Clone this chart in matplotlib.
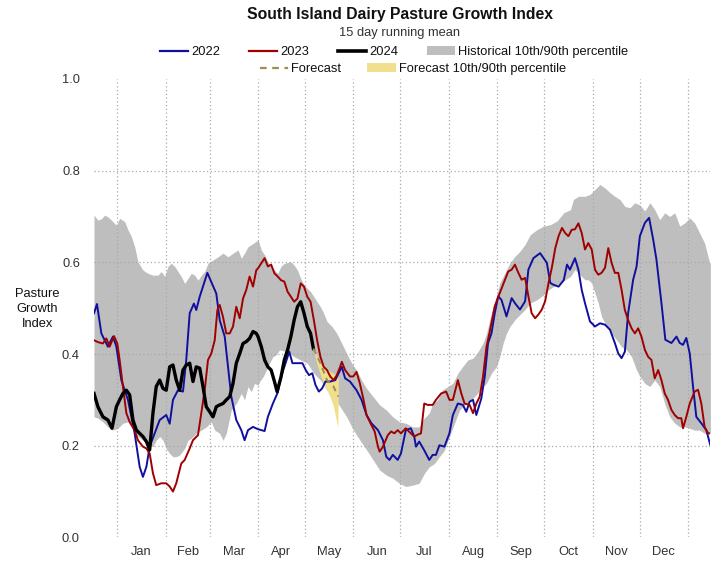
import matplotlib
matplotlib.use("Agg")
import matplotlib.pyplot as plt
from matplotlib.lines import Line2D
from matplotlib.patches import Patch
import numpy as np

plt.rcParams['font.family'] = ['Liberation Sans', 'DejaVu Sans']

# ---------------- data: (day of year, value) with day 0 = 1 Jan ----------------
series_2022 = [(-14.9, 0.489), (-13, 0.509), (-10.2, 0.445), (-6, 0.416), (-2.8, 0.438), (-0.6, 0.416),
    (2.6, 0.343), (6.8, 0.300), (11.1, 0.227), (14.3, 0.154), (16.4, 0.132), (18.6, 0.154), (20.7, 0.198),
    (23.9, 0.227), (27.1, 0.256), (31.3, 0.267), (33.5, 0.248), (35.6, 0.300), (38.8, 0.321), (42, 0.318),
    (44.1, 0.387), (46.3, 0.489), (49, 0.510), (50.5, 0.496), (52.7, 0.525), (54.8, 0.547), (57.6, 0.577),
    (60.1, 0.557), (63.3, 0.532), (65.5, 0.474), (68.7, 0.438), (70.8, 0.372), (72.9, 0.307), (76.1, 0.256),
    (79.3, 0.234), (81.4, 0.212), (83.6, 0.234), (86.8, 0.241), (90, 0.236), (94.2, 0.232), (96.3, 0.263),
    (99.5, 0.292), (102.6, 0.316), (104.7, 0.350), (107.9, 0.383), (110, 0.405), (112, 0.380), (115.2, 0.380),
    (118.4, 0.380), (120.5, 0.365), (122.6, 0.354), (124.7, 0.358), (126.8, 0.332), (128.9, 0.318),
    (131, 0.325), (133.1, 0.340), (136.2, 0.340), (139.4, 0.343), (141.5, 0.358), (143.6, 0.372),
    (145.7, 0.347), (148.8, 0.340), (153, 0.321), (156.2, 0.300), (159.4, 0.267), (162.5, 0.249),
    (166.7, 0.234), (169.9, 0.212), (172, 0.176), (174.1, 0.169), (176.2, 0.180), (179.3, 0.169),
    (181.4, 0.183), (184.5, 0.234), (187.7, 0.238), (189.9, 0.220), (191, 0.198), (193.1, 0.209),
    (196.3, 0.190), (199.5, 0.169), (201.7, 0.180), (203.8, 0.180), (206, 0.201), (209.2, 0.198),
    (212.4, 0.227), (214.6, 0.267), (217.8, 0.292), (221, 0.289), (223.2, 0.274), (225.3, 0.296),
    (227.5, 0.300), (229.6, 0.267), (232.8, 0.303), (235, 0.351), (237.1, 0.424), (239.3, 0.445),
    (241.4, 0.489), (243.6, 0.526), (245.7, 0.518), (248.9, 0.482), (252.2, 0.522), (254.3, 0.511),
    (257.5, 0.497), (260.8, 0.515), (262.9, 0.584), (266.1, 0.609), (270.4, 0.620), (274.7, 0.599),
    (276.9, 0.555), (279, 0.551), (282.2, 0.547), (285.5, 0.561), (287.6, 0.595), (289.5, 0.584),
    (292.7, 0.609), (294.9, 0.584), (297, 0.540), (299.1, 0.511), (302.3, 0.471), (305.5, 0.460),
    (308.7, 0.467), (311.9, 0.464), (315.1, 0.453), (318.2, 0.424), (320.4, 0.401), (322.5, 0.391),
    (324.6, 0.405), (326.7, 0.489), (329.9, 0.562), (332.1, 0.591), (334.2, 0.657), (337.4, 0.686),
    (340.1, 0.697), (342.7, 0.650), (344.8, 0.606), (348, 0.511), (350.5, 0.431), (354.4, 0.424),
    (357.6, 0.438), (359.7, 0.424), (361.8, 0.420), (363.9, 0.435), (366.1, 0.401), (368.2, 0.329),
    (370.3, 0.263), (373.5, 0.249), (376.7, 0.234), (379.3, 0.201)]

series_2023 = [(-14.9, 0.430), (-12.4, 0.426), (-9.2, 0.423), (-7, 0.434), (-4.9, 0.416), (-2.1, 0.439),
    (0, 0.423), (1.5, 0.387), (3.6, 0.329), (5.8, 0.271), (7.9, 0.252), (11.1, 0.234), (13.2, 0.212),
    (16.4, 0.198), (18.6, 0.194), (20.7, 0.183), (22.8, 0.140), (24.9, 0.114), (28.1, 0.118), (31.3, 0.118),
    (33.5, 0.111), (35.6, 0.100), (37.7, 0.118), (40.9, 0.161), (43.1, 0.169), (46.3, 0.194), (48.4, 0.212),
    (51.6, 0.223), (53.7, 0.271), (55.9, 0.321), (58, 0.387), (60.1, 0.401), (62.3, 0.430), (64, 0.496),
    (65.5, 0.507), (67.6, 0.481), (69.7, 0.445), (71.9, 0.445), (74, 0.460), (76.1, 0.503), (78.3, 0.478),
    (80.4, 0.521), (82.5, 0.540), (84.6, 0.569), (86.8, 0.547), (88.9, 0.583), (90, 0.587), (92.1, 0.598),
    (94.2, 0.609), (96.3, 0.591), (98.4, 0.595), (100.5, 0.576), (102.6, 0.569), (104.7, 0.561),
    (106.8, 0.558), (108.9, 0.536), (111, 0.525), (113.1, 0.514), (115.2, 0.521), (117.3, 0.554),
    (119.4, 0.547), (121.5, 0.525), (123.6, 0.514), (125.7, 0.474), (127.8, 0.430), (129.9, 0.394),
    (132, 0.372), (134.1, 0.365), (136.2, 0.351), (138.3, 0.343), (140.4, 0.354), (142.5, 0.372),
    (143.6, 0.383), (145.7, 0.365), (148.8, 0.351), (150.9, 0.351), (153, 0.361), (155.1, 0.336),
    (157.3, 0.303), (159.4, 0.267), (162.5, 0.245), (164.6, 0.231), (166.7, 0.198), (167.8, 0.187),
    (169.9, 0.198), (173, 0.223), (175.1, 0.231), (177.2, 0.227), (179.3, 0.234), (181.4, 0.227),
    (184.5, 0.238), (187.7, 0.227), (189.9, 0.220), (192, 0.224), (194.2, 0.227), (196.3, 0.292),
    (198.5, 0.289), (201.7, 0.289), (203.8, 0.300), (207.1, 0.314), (210.3, 0.318), (212.4, 0.300),
    (214.6, 0.300), (217.8, 0.343), (220, 0.314), (222.1, 0.292), (225.3, 0.289), (227.5, 0.271),
    (229.6, 0.292), (231.8, 0.307), (233.9, 0.351), (236.1, 0.416), (238.2, 0.449), (241.4, 0.504),
    (244.6, 0.533), (247.9, 0.562), (250, 0.580), (252.2, 0.584), (254.3, 0.595), (256.5, 0.577),
    (258.6, 0.562), (260.8, 0.566), (262.9, 0.526), (265, 0.489), (267.2, 0.478), (269.3, 0.486),
    (271.5, 0.497), (273.6, 0.515), (275.8, 0.555), (278, 0.590), (280.1, 0.631), (282.2, 0.657),
    (284.4, 0.675), (286.4, 0.664), (288.5, 0.657), (290.6, 0.671), (292.7, 0.672), (294.9, 0.685),
    (297, 0.664), (299.1, 0.628), (301.2, 0.642), (303.4, 0.628), (305.5, 0.584), (307.6, 0.573),
    (309.7, 0.577), (311.9, 0.588), (314, 0.631), (316.1, 0.599), (318.2, 0.577), (320.4, 0.577),
    (322.5, 0.540), (324.6, 0.496), (326.7, 0.474), (328.9, 0.456), (331, 0.445), (333.1, 0.456),
    (335.2, 0.438), (337.4, 0.409), (339.5, 0.394), (341.6, 0.387), (343.7, 0.347), (345.9, 0.365),
    (348, 0.343), (350.1, 0.314), (352.2, 0.300), (354.4, 0.278), (356.5, 0.267), (358.6, 0.260),
    (360.7, 0.260), (361.8, 0.238), (363.9, 0.263), (366.1, 0.292), (369.2, 0.318), (371.4, 0.322),
    (373.5, 0.292), (375.6, 0.241), (377.8, 0.227), (379.3, 0.227)]

series_2024 = [(-14.9, 0.314), (-12.4, 0.285), (-9.2, 0.263), (-6, 0.256), (-3.4, 0.238), (-0.6, 0.285),
    (1.5, 0.300), (3.6, 0.314), (5.8, 0.321), (7.9, 0.311), (10, 0.256), (12.2, 0.234), (14.3, 0.227),
    (16.4, 0.220), (18.6, 0.209), (20.7, 0.191), (22.8, 0.271), (24.9, 0.329), (27.1, 0.343), (29.2, 0.325),
    (31.3, 0.321), (33.5, 0.372), (35.6, 0.376), (37.7, 0.343), (39.9, 0.321), (42, 0.365), (44.1, 0.376),
    (46.3, 0.380), (48.4, 0.340), (50.5, 0.372), (52.7, 0.369), (54.8, 0.329), (56.9, 0.285), (59.1, 0.274),
    (61.2, 0.263), (63.3, 0.285), (65.5, 0.289), (67.6, 0.292), (69.7, 0.300), (71.9, 0.307), (74, 0.336),
    (76.1, 0.380), (78.3, 0.401), (80.4, 0.423), (82.5, 0.427), (84.6, 0.434), (86.8, 0.449), (88.9, 0.445),
    (90, 0.438), (92.1, 0.416), (94.2, 0.387), (96.3, 0.372), (98.4, 0.365), (100.5, 0.340), (102.2, 0.318),
    (104.7, 0.350), (106.8, 0.387), (108.9, 0.409), (111, 0.438), (113.1, 0.474), (115.2, 0.503),
    (117.3, 0.514), (119.4, 0.489), (121.5, 0.460), (123.6, 0.445), (125.4, 0.412)]

forecast = [(125.4, 0.412), (129.9, 0.380), (134.1, 0.343), (138.3, 0.329), (141.3, 0.307)]

# (day, lower, upper)
forecast_band = [(125.4, 0.412, 0.412), (127.5, 0.380, 0.398), (129.6, 0.358, 0.379), (131.8, 0.336, 0.372),
    (133.9, 0.322, 0.365), (136, 0.307, 0.362), (138.1, 0.288, 0.358), (139.2, 0.270, 0.356),
    (141.0, 0.241, 0.350), (141.3, 0.300, 0.346)]

hist_upper = [(-14.9, 0.703), (-12.4, 0.692), (-10.2, 0.695), (-8.1, 0.703), (-6, 0.699), (-3.8, 0.692),
    (-0.6, 0.681), (1.5, 0.696), (4.7, 0.689), (6.8, 0.671), (9.0, 0.656), (11.1, 0.634), (13.2, 0.601),
    (16.4, 0.583), (19.6, 0.576), (22.8, 0.572), (26, 0.572), (28.1, 0.580), (30.3, 0.569), (32.4, 0.591),
    (34.5, 0.598), (36.7, 0.591), (38.8, 0.580), (40.9, 0.569), (43.1, 0.554), (45.2, 0.565), (47.3, 0.576),
    (49.5, 0.572), (51.6, 0.561), (53.7, 0.572), (55.9, 0.580), (58, 0.598), (61.2, 0.605), (64.4, 0.612),
    (67.6, 0.620), (70.8, 0.612), (74, 0.620), (77.2, 0.627), (79.3, 0.609), (81.4, 0.620), (83.6, 0.634),
    (86.8, 0.641), (90, 0.649), (92.1, 0.627), (94.2, 0.616), (96.3, 0.601), (98.4, 0.591), (100.5, 0.583),
    (102.6, 0.576), (104.7, 0.591), (106.8, 0.598), (111, 0.601), (113.1, 0.594), (115.2, 0.583),
    (117.3, 0.565), (119.4, 0.551), (121.5, 0.543), (123.6, 0.536), (125.7, 0.525), (127.8, 0.514),
    (129.9, 0.503), (132, 0.489), (134.1, 0.471), (137.3, 0.460), (140.4, 0.445), (143.6, 0.423),
    (146.7, 0.401), (149.9, 0.380), (153, 0.365), (156.2, 0.343), (159.4, 0.325), (163.6, 0.307),
    (167.8, 0.289), (172, 0.278), (176.2, 0.263), (180.4, 0.252), (184.6, 0.249), (188.8, 0.241),
    (193, 0.241), (196.3, 0.260), (199.5, 0.271), (201.7, 0.292), (204.9, 0.300), (208.1, 0.322),
    (211.4, 0.329), (214.6, 0.336), (217.8, 0.358), (221, 0.373), (224.2, 0.387), (227.5, 0.391),
    (230.7, 0.405), (233.9, 0.424), (236.1, 0.445), (238.2, 0.475), (240.4, 0.504), (242.5, 0.526),
    (244.6, 0.555), (247.9, 0.577), (251.1, 0.599), (254.3, 0.613), (257.5, 0.624), (260.8, 0.639),
    (264, 0.660), (268.3, 0.671), (272.6, 0.679), (276.9, 0.682), (281.2, 0.690), (285.5, 0.708),
    (289.8, 0.715), (291.7, 0.737), (294.9, 0.744), (299.1, 0.744), (302.3, 0.748), (305.5, 0.759),
    (308.7, 0.770), (311.9, 0.762), (315.1, 0.752), (318.2, 0.744), (321.4, 0.737), (324.6, 0.722),
    (327.8, 0.719), (331, 0.730), (334.2, 0.725), (337.4, 0.712), (340.6, 0.730), (343.7, 0.715),
    (346.9, 0.693), (350.1, 0.708), (353.3, 0.700), (356.5, 0.708), (359.7, 0.679), (362.9, 0.686),
    (366.1, 0.697), (369.2, 0.686), (372.4, 0.664), (375.6, 0.642), (378.8, 0.599), (379.3, 0.599)]

hist_lower = [(-14.9, 0.263), (-12.4, 0.260), (-9.2, 0.252), (-6, 0.241), (-2.8, 0.234), (0.4, 0.238),
    (3.6, 0.249), (6.8, 0.252), (10, 0.234), (13.2, 0.220), (16.4, 0.212), (19.6, 0.201), (22.8, 0.198),
    (24.9, 0.212), (27.1, 0.220), (29.2, 0.212), (31.3, 0.194), (33.5, 0.183), (35.6, 0.176), (37.7, 0.176),
    (39.9, 0.180), (43.1, 0.194), (45.2, 0.212), (47.3, 0.216), (50.5, 0.227), (53.7, 0.234), (56.9, 0.241),
    (60.1, 0.252), (62.3, 0.234), (65.5, 0.227), (67.6, 0.212), (69.7, 0.227), (72.9, 0.278), (76.1, 0.292),
    (79.3, 0.314), (81.4, 0.300), (83.6, 0.329), (85.7, 0.318), (87.8, 0.336), (90, 0.332), (91, 0.340),
    (93.2, 0.350), (95.3, 0.365), (97.4, 0.380), (99.5, 0.394), (101.6, 0.398), (103.7, 0.409),
    (108.9, 0.405), (113.1, 0.394), (117.3, 0.387), (121.5, 0.380), (125.7, 0.358), (129.9, 0.343),
    (134.1, 0.321), (138.3, 0.307), (142.5, 0.285), (146.7, 0.263), (151, 0.234), (155.2, 0.212),
    (159.4, 0.191), (163.6, 0.169), (167.8, 0.147), (172, 0.136), (176.2, 0.129), (180.4, 0.118),
    (184.6, 0.111), (188.8, 0.114), (193, 0.118), (196.3, 0.139), (199.5, 0.154), (202.8, 0.161),
    (206, 0.176), (209.2, 0.190), (212.4, 0.220), (215.7, 0.249), (218.9, 0.278), (223.2, 0.292),
    (226.4, 0.300), (229.6, 0.311), (232.8, 0.325), (236.1, 0.336), (239.3, 0.358), (242.5, 0.373),
    (244.6, 0.394), (246.8, 0.424), (248.9, 0.445), (251.1, 0.460), (254.3, 0.475), (257.5, 0.486),
    (260.8, 0.497), (264, 0.511), (268.3, 0.518), (272.6, 0.529), (275.8, 0.540), (279, 0.547),
    (283.3, 0.555), (289.8, 0.569), (292.7, 0.584), (297, 0.569), (299.1, 0.562), (301.2, 0.562),
    (303.4, 0.555), (305.5, 0.533), (307.6, 0.511), (309.7, 0.482), (312.9, 0.460), (316.1, 0.445),
    (319.3, 0.431), (322.5, 0.416), (325.7, 0.409), (328.9, 0.394), (332.1, 0.365), (334.2, 0.351),
    (337.4, 0.336), (340.6, 0.329), (343.7, 0.343), (346.9, 0.329), (350.1, 0.292), (353.3, 0.263),
    (356.5, 0.249), (359.7, 0.241), (362.9, 0.241), (366.1, 0.238), (369.2, 0.234), (372.4, 0.234),
    (375.6, 0.227), (378.8, 0.227), (379.3, 0.227)]

month_starts = [0, 31, 59, 90, 120, 151, 181, 212, 243, 273, 304, 334, 365]
month_labels = ['Jan', 'Feb', 'Mar', 'Apr', 'May', 'Jun', 'Jul', 'Aug', 'Sep', 'Oct', 'Nov', 'Dec']
y_ticks = [0.0, 0.2, 0.4, 0.6, 0.8, 1.0]

# ---------------- figure ----------------
fig = plt.figure(figsize=(7.18, 5.67), dpi=100)
ax = fig.add_axes([0.1307, 0.0522, 0.8587, 0.8086])

col_band = '#bebebe'
col_fc_band = '#f0df8c'
col_2022 = '#1010a0'
col_2023 = '#a00000'
col_2024 = '#000000'
col_fc = '#a08c50'
fs = 9.3

# historical band, both edges evaluated on the union of their sampled days
hu_d, hu_v = zip(*hist_upper)
hl_d, hl_v = zip(*hist_lower)
grid_days = np.array(sorted(set(hu_d) | set(hl_d)))
hi_i = np.interp(grid_days, hu_d, hu_v)
lo_i = np.interp(grid_days, hl_d, hl_v)
ax.fill_between(grid_days, lo_i, hi_i, color=col_band, lw=0, zorder=1)

# grid
for v in y_ticks[1:-1]:
    ax.axhline(v, color='#a8a8a8', lw=0.9, ls=(0, (1, 2)), zorder=2)
for d in month_starts:
    ax.axvline(d, color='#a8a8a8', lw=0.9, ls=(0, (1, 2)), zorder=2)

fb_d, fb_lo, fb_hi = zip(*forecast_band)
ax.fill_between(fb_d, fb_lo, fb_hi, color=col_fc_band, lw=0, zorder=3)

for ser, col, lw, z in [(series_2022, col_2022, 1.4, 4), (series_2023, col_2023, 1.4, 4),
                        (series_2024, col_2024, 2.4, 5)]:
    d, v = zip(*ser)
    ax.plot(d, v, color=col, lw=lw, zorder=z, solid_joinstyle='round')
fd, fv = zip(*forecast)
ax.plot(fd, fv, color=col_fc, lw=1.4, ls=(0, (3, 2.5)), zorder=5)

ax.set_xlim(-15, 379.3)
ax.set_ylim(0, 1)
for s in ax.spines.values():
    s.set_visible(False)

mid = [(month_starts[i] + month_starts[i + 1]) / 2 for i in range(12)]
ax.set_xticks(mid)
ax.set_xticklabels(month_labels)
ax.set_yticks(y_ticks)
ax.set_yticklabels([f'{v:.1f}' for v in y_ticks])
ax.tick_params(axis='both', length=0, labelsize=fs, colors='#333333')
ax.tick_params(axis='x', pad=6)
ax.tick_params(axis='y', pad=10)

fig.text(0.052, 0.455, 'Pasture\nGrowth\nIndex', ha='center', va='center', fontsize=fs,
         color='#111111', linespacing=1.3)

fig.text(0.557, 0.974, 'South Island Dairy Pasture Growth Index', ha='center', va='center',
         fontsize=11.3, fontweight='bold', color='#111111')
fig.text(0.557, 0.942, '15 day running mean', ha='center', va='center', fontsize=fs, color='#333333')

h1 = [Line2D([], [], color=col_2022, lw=1.6), Line2D([], [], color=col_2023, lw=1.6),
      Line2D([], [], color=col_2024, lw=2.6), Patch(facecolor=col_band, edgecolor='none')]
l1 = ['2022', '2023', '2024', 'Historical 10th/90th percentile']
leg1 = fig.legend(h1, l1, loc='center', bbox_to_anchor=(0.549, 0.908), ncol=4, frameon=False,
                  fontsize=fs, handlelength=2.2, handletextpad=0.25, columnspacing=2.2,
                  borderaxespad=0, borderpad=0)
h2 = [Line2D([], [], color=col_fc, lw=1.6, ls=(0, (3, 2.5))),
      Patch(facecolor=col_fc_band, edgecolor='none')]
l2 = ['Forecast', 'Forecast 10th/90th percentile']
leg2 = fig.legend(h2, l2, loc='center', bbox_to_anchor=(0.575, 0.878), ncol=2, frameon=False,
                  fontsize=fs, handlelength=2.2, handletextpad=0.25, columnspacing=2.0,
                  borderaxespad=0, borderpad=0)
for t in leg1.get_texts() + leg2.get_texts():
    t.set_color('#111111')

fig.savefig('out.png', dpi=100)
